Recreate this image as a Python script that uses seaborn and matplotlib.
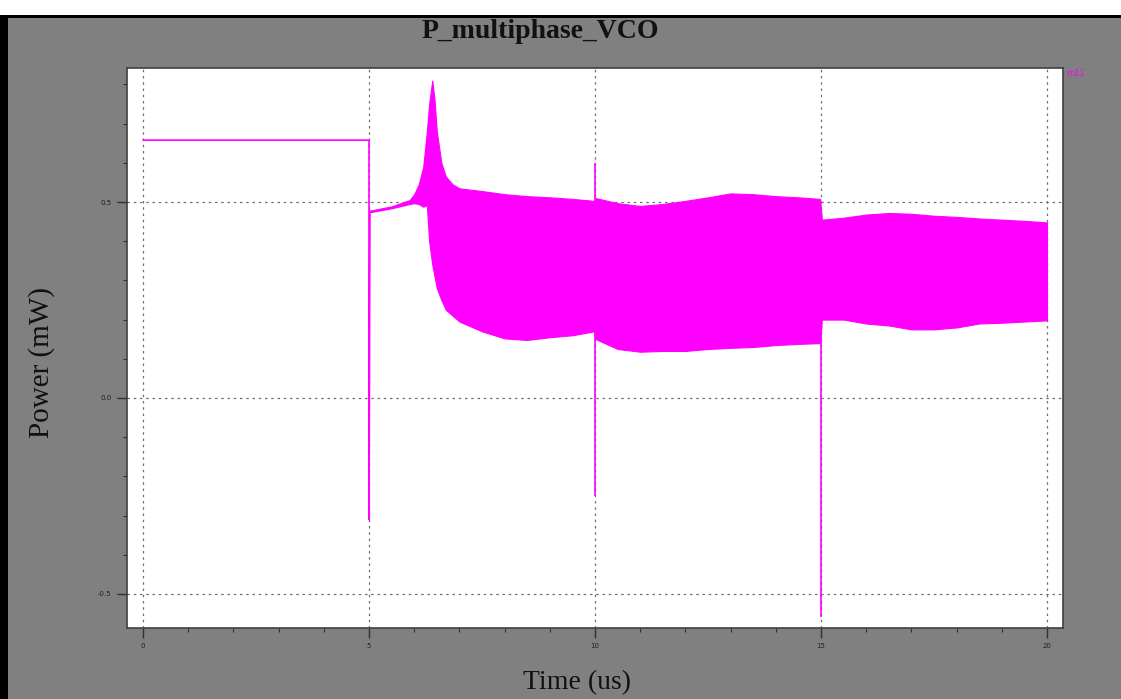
import matplotlib
matplotlib.use('Agg')
import matplotlib.pyplot as plt
from matplotlib.patches import Rectangle
from matplotlib.ticker import MultipleLocator
import seaborn as sns

sns.set_style('white')

MAGENTA = '#ff00ff'

# flat output before the oscillator starts, then the drop at 5 us
trace_t = [0.0, 5.0, 5.0, 5.02]
trace_v = [0.658, 0.658, -0.31, 0.476]

# envelope of the oscillating power (upper / lower edge)
env_t = [5.02, 5.5, 5.9, 6.0, 6.1, 6.2, 6.28, 6.33, 6.4, 6.45, 6.5, 6.6,
         6.7, 6.85, 7.0, 7.5, 8.0, 8.5, 9.0, 9.5, 9.98, 10.02, 10.5, 11.0,
         11.5, 12.0, 12.5, 13.0, 13.5, 14.0, 14.5, 14.98, 15.02, 15.5, 16.0,
         16.5, 17.0, 17.5, 18.0, 18.5, 19.0, 19.5, 20.0]
env_hi = [0.478, 0.489, 0.505, 0.52, 0.545, 0.59, 0.68, 0.75, 0.81, 0.76,
          0.68, 0.60, 0.565, 0.545, 0.535, 0.528, 0.52, 0.515, 0.512, 0.508,
          0.503, 0.51, 0.497, 0.49, 0.495, 0.503, 0.512, 0.522, 0.52, 0.515,
          0.512, 0.508, 0.455, 0.46, 0.468, 0.472, 0.47, 0.465, 0.462, 0.458,
          0.455, 0.452, 0.448]
env_lo = [0.474, 0.484, 0.495, 0.497, 0.495, 0.488, 0.492, 0.40, 0.34,
          0.31, 0.28, 0.25, 0.225, 0.21, 0.195, 0.17, 0.152, 0.148, 0.155,
          0.16, 0.17, 0.15, 0.125, 0.118, 0.12, 0.12, 0.125, 0.128, 0.13,
          0.135, 0.138, 0.14, 0.20, 0.2, 0.19, 0.185, 0.175, 0.175, 0.18,
          0.19, 0.192, 0.195, 0.198]

# glitches at the switching instants
spike_t = [10.0, 15.0]
spike_hi = [0.60, 0.46]
spike_lo = [-0.25, -0.56]

fig = plt.figure(figsize=(11.21, 6.99), dpi=100)
fig.patch.set_facecolor('white')

# grey panel with black border like the simulator window
fig.patches.append(Rectangle((0, 0), 1, 1 - 18 / 699, transform=fig.transFigure,
                             facecolor='#808080', edgecolor='none', zorder=-3))
fig.patches.append(Rectangle((0, 1 - 18 / 699), 1, 3 / 699, transform=fig.transFigure,
                             facecolor='black', edgecolor='none', zorder=-2))
fig.patches.append(Rectangle((0, 0), 8 / 1121, 1 - 15 / 699, transform=fig.transFigure,
                             facecolor='black', edgecolor='none', zorder=-2))

ax = fig.add_axes([127 / 1121, 71 / 699, 936 / 1121, 560 / 699])
ax.set_facecolor('white')

ax.fill_between(env_t, env_lo, env_hi, color=MAGENTA, linewidth=0.8, zorder=3)
sns.lineplot(x=trace_t, y=trace_v, sort=False, estimator=None, color=MAGENTA,
             linewidth=1.2, ax=ax, zorder=3)
ax.vlines(spike_t, spike_lo, spike_hi, color=MAGENTA, linewidth=1.2, zorder=3)

ax.set_xlim(-0.354, 20.354)
ax.set_ylim(-0.587, 0.842)

ax.xaxis.set_major_locator(MultipleLocator(5))
ax.xaxis.set_minor_locator(MultipleLocator(1))
ax.yaxis.set_major_locator(MultipleLocator(0.5))
ax.yaxis.set_minor_locator(MultipleLocator(0.1))
ax.tick_params(axis='both', which='major', direction='out', length=7, width=1,
               color='#303030', labelsize=5, labelcolor='#202020', pad=4,
               bottom=True, left=True)
ax.tick_params(axis='both', which='minor', direction='out', length=3, width=0.8,
               color='#303030', bottom=True, left=True)
ax.yaxis.set_major_formatter(plt.FuncFormatter(lambda v, p: f'{v:.1f}'))
ax.xaxis.set_major_formatter(plt.FuncFormatter(lambda v, p: f'{v:.0f}'))

ax.grid(True, which='major', linestyle=(0, (2, 3)), color='#707070', linewidth=0.9)
for side in ['top', 'right', 'bottom', 'left']:
    ax.spines[side].set_color('#404040')
    ax.spines[side].set_linewidth(1.2)

fig.text(540 / 1121, 1 - 31 / 699, 'P_multiphase_VCO', ha='center', va='center',
         fontsize=20, fontweight='bold', family='Liberation Serif', color='#111111')
fig.text(42 / 1121, 1 - 362 / 699, 'Power (mW)', ha='center', va='center',
         rotation=90, fontsize=21, family='Liberation Serif', color='#111111')
fig.text(577 / 1121, 1 - 683 / 699, 'Time (us)', ha='center', va='center',
         fontsize=20, family='Liberation Serif', color='#111111')
fig.text(1066 / 1121, 1 - 74 / 699, 'm11', ha='left', va='center',
         fontsize=6, color=MAGENTA)

fig.savefig('out.png', dpi=100, facecolor=fig.get_facecolor())
